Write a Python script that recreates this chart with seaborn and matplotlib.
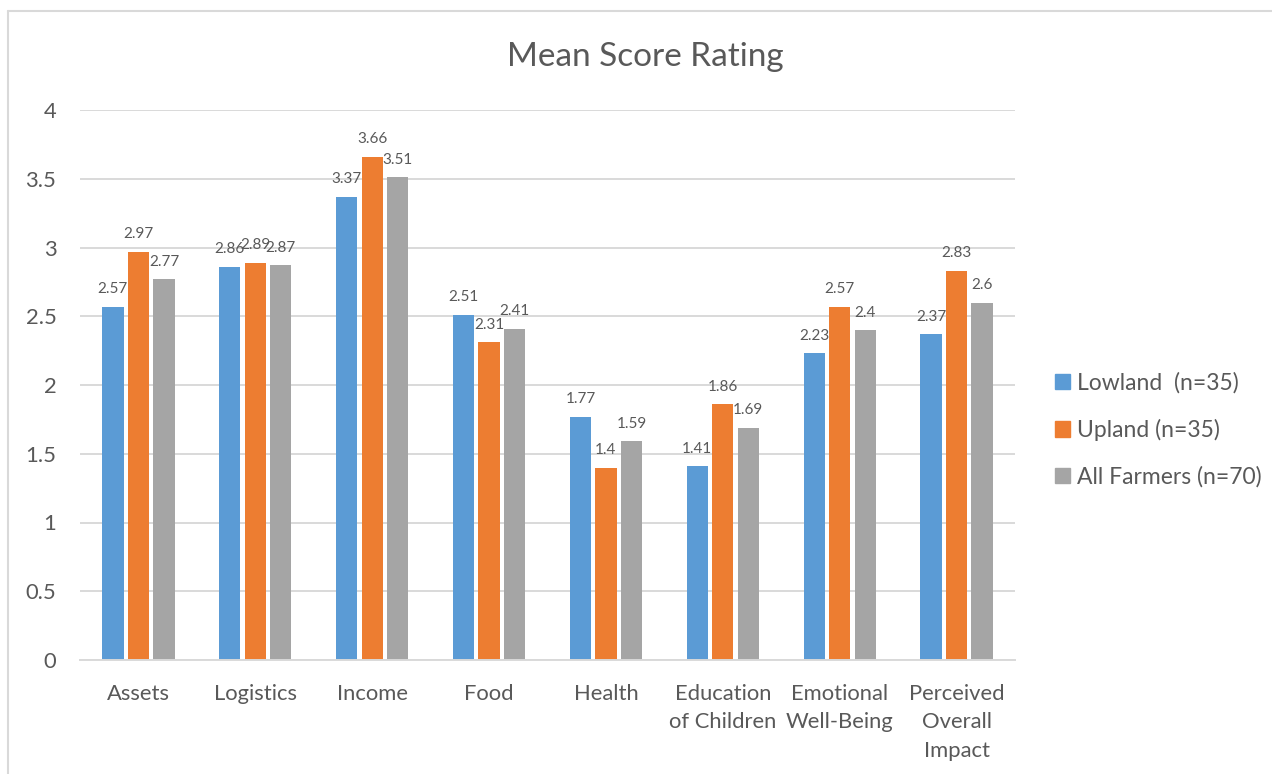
import matplotlib
matplotlib.use("Agg")
import matplotlib.pyplot as plt
from matplotlib.lines import Line2D
import seaborn as sns
import pandas as pd

categories = ["Assets", "Logistics", "Income", "Food", "Health",
              "Education\nof Children", "Emotional\nWell-Being",
              "Perceived\nOverall\nImpact"]
series_names = ["Lowland  (n=35)", "Upland (n=35)", "All Farmers (n=70)"]
lowland = [2.57, 2.86, 3.37, 2.51, 1.77, 1.41, 2.23, 2.37]
upland = [2.97, 2.89, 3.66, 2.31, 1.40, 1.86, 2.57, 2.83]
all_farmers = [2.77, 2.87, 3.51, 2.41, 1.59, 1.69, 2.40, 2.60]
y_ticks = [0, 0.5, 1, 1.5, 2, 2.5, 3, 3.5, 4]
y_tick_labels = ["0", "0.5", "1", "1.5", "2", "2.5", "3", "3.5", "4"]

colors = ["#5B9BD5", "#ED7D31", "#A5A5A5"]
text_color = "#595959"
grid_color = "#D9D9D9"

sns.set_theme(style="white")
plt.rcParams["font.family"] = ["Lato", "DejaVu Sans"]

rows = []
for name, vals in zip(series_names, [lowland, upland, all_farmers]):
    for cat, v in zip(categories, vals):
        rows.append({"category": cat, "series": name, "value": v})
df = pd.DataFrame(rows)

fig = plt.figure(figsize=(12.72, 7.74), dpi=100)
ax = fig.add_axes([80 / 1272, 1 - 660 / 774, 935 / 1272, 550 / 774])

sns.barplot(data=df, x="category", y="value", hue="series",
            order=categories, hue_order=series_names,
            palette=dict(zip(series_names, colors)), saturation=1,
            width=0.655, gap=0.17, linewidth=0, errorbar=None, ax=ax)

ax.set_ylim(0, 4)
ax.set_xlim(-0.5, len(categories) - 0.5)
ax.set_yticks(y_ticks)
ax.set_yticklabels(y_tick_labels)
ax.set_xlabel("")
ax.set_ylabel("")
ax.yaxis.grid(True, color=grid_color, linewidth=1.4)
ax.set_axisbelow(True)
for side in ["left", "right", "top"]:
    ax.spines[side].set_visible(False)
ax.spines["bottom"].set_color(grid_color)
ax.spines["bottom"].set_linewidth(1.4)
ax.tick_params(axis="both", length=0, labelsize=15.8, colors=text_color)
ax.tick_params(axis="y", pad=17)
ax.tick_params(axis="x", pad=17)
for lbl in ax.get_xticklabels():
    lbl.set_linespacing(1.55)
    lbl.set_verticalalignment("top")
if ax.get_legend() is not None:
    ax.get_legend().remove()

for cont, vals in zip(ax.containers, [lowland, upland, all_farmers]):
    ax.bar_label(cont, labels=[f"{v:g}" for v in vals], padding=7.5,
                 fontsize=11, color=text_color)

fig.text(645 / 1272, 1 - 57 / 774, "Mean Score Rating", ha="center",
         va="center", fontsize=24, color=text_color)

handles = [plt.Rectangle((0, 0), 1, 1, color=c) for c in colors]
leg = fig.legend(handles, series_names, loc="center left",
                 bbox_to_anchor=(1055 / 1272, 1 - 430 / 774),
                 frameon=False, fontsize=16.5, labelcolor=text_color,
                 handlelength=0.65, handleheight=0.65, handletextpad=0.3,
                 labelspacing=1.1, borderpad=0, borderaxespad=0)

# outer chart border
bx, by = 8 / 1272, 1 - 11 / 774
fig.add_artist(Line2D([bx, bx], [0, by], color=grid_color, linewidth=1.5,
                      transform=fig.transFigure))
fig.add_artist(Line2D([bx, 1], [by, by], color=grid_color, linewidth=1.5,
                      transform=fig.transFigure))

fig.savefig("out.png", dpi=100, facecolor="white")
